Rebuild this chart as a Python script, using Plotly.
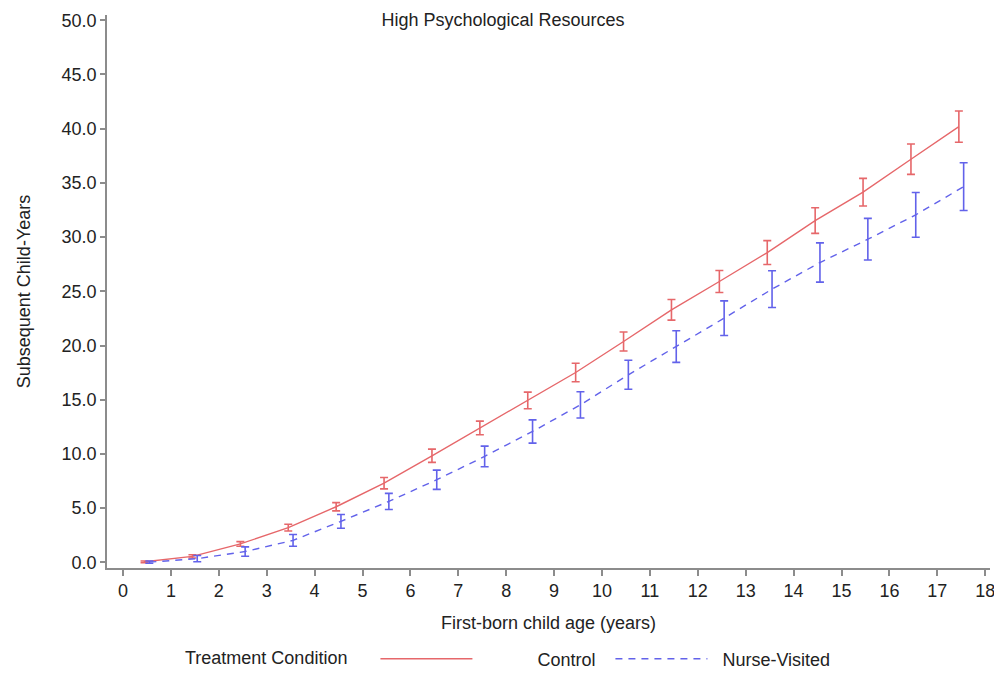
import plotly.graph_objects as go

# Data
control_age = [0.45, 1.45, 2.45, 3.45, 4.45, 5.45, 6.45, 7.45, 8.45, 9.45,
               10.45, 11.45, 12.45, 13.45, 14.45, 15.45, 16.45, 17.45]
control_val = [0.05, 0.55, 1.7, 3.2, 5.13, 7.3, 9.83, 12.4, 14.93, 17.51,
               20.37, 23.29, 25.9, 28.57, 31.52, 34.14, 37.18, 40.18]
control_err = [0.08, 0.15, 0.21, 0.31, 0.38, 0.52, 0.61, 0.63, 0.77, 0.85,
               0.88, 0.95, 1.01, 1.1, 1.18, 1.27, 1.4, 1.44]

nurse_age = [0.55, 1.55, 2.55, 3.55, 4.55, 5.55, 6.55, 7.55, 8.55, 9.55,
             10.55, 11.55, 12.55, 13.55, 14.55, 15.55, 16.55, 17.55]
nurse_val = [0.02, 0.34, 1.0, 2.03, 3.78, 5.62, 7.62, 9.77, 12.07, 14.53,
             17.3, 19.9, 22.52, 25.2, 27.65, 29.8, 32.05, 34.65]
nurse_err = [0.1, 0.29, 0.43, 0.54, 0.63, 0.74, 0.89, 0.95, 1.07, 1.21,
             1.34, 1.46, 1.6, 1.69, 1.81, 1.92, 2.06, 2.2]

x_ticks = list(range(0, 19))
y_ticks = [0, 5, 10, 15, 20, 25, 30, 35, 40, 45, 50]

RED = "#E6676A"
BLUE = "#6262EA"
FONT = "Liberation Sans, Arial, sans-serif"
TXT = "#222222"
AX = "#8C8C8C"
FS = 18
NB = "\u00a0"

fig = go.Figure()
fig.add_trace(go.Scatter(
    x=control_age, y=control_val, mode="lines", name=NB * 12 + "Control",
    line=dict(color=RED, width=1.4),
    error_y=dict(type="data", array=control_err, visible=True,
                 color=RED, thickness=1.6, width=4),
))
fig.add_trace(go.Scatter(
    x=nurse_age, y=nurse_val, mode="lines", name=NB * 2 + "Nurse-Visited",
    line=dict(color=BLUE, width=1.4, dash="7px,6px"),
    error_y=dict(type="data", array=nurse_err, visible=True,
                 color=BLUE, thickness=1.6, width=4),
))

fig.update_layout(
    width=994, height=673,
    margin=dict(l=107, r=4, t=15, b=105),
    paper_bgcolor="white", plot_bgcolor="white",
    font=dict(family=FONT, size=FS, color=TXT),
    title=dict(text="High Psychological Resources", x=0.506, xref="container",
               xanchor="center", y=1 - 20 / 673, yref="container", yanchor="middle",
               font=dict(size=FS, color=TXT)),
    showlegend=True,
    legend=dict(orientation="h", xref="container", x=183 / 994, xanchor="left",
                yref="container", y=1 - 659 / 673, yanchor="middle",
                title=dict(text="Treatment Condition" + NB * 4, side="left",
                           font=dict(size=FS, color=TXT)),
                font=dict(size=FS, color=TXT), itemwidth=92,
                entrywidth=128, bgcolor="rgba(0,0,0,0)"),
)
fig.update_xaxes(
    range=[-0.334, 18.1], tickvals=x_ticks, ticktext=[str(v) for v in x_ticks],
    showgrid=False, zeroline=False, showline=True, linecolor=AX, linewidth=1.5,
    ticks="outside", ticklen=6, tickcolor=AX, tickwidth=1.5, automargin=False,
    ticklabeloverflow="allow",
    tickfont=dict(size=FS, color=TXT),
    title=dict(text="First-born child age (years)", font=dict(size=FS, color=TXT), standoff=16),
)
fig.update_yaxes(
    range=[-0.52, 50.48], tickvals=y_ticks, tickformat=".1f",
    showgrid=False, zeroline=False, showline=True, linecolor=AX, linewidth=1.5,
    ticks="outside", ticklen=5, tickcolor=AX, tickwidth=1.5, automargin=False,
    tickfont=dict(size=FS, color=TXT),
    title=dict(text="Subsequent Child-Years", font=dict(size=FS, color=TXT), standoff=26),
)

fig.write_html("out.html", config={"displayModeBar": False},
               post_script="document.body.style.margin='0';document.body.style.overflow='hidden';")
